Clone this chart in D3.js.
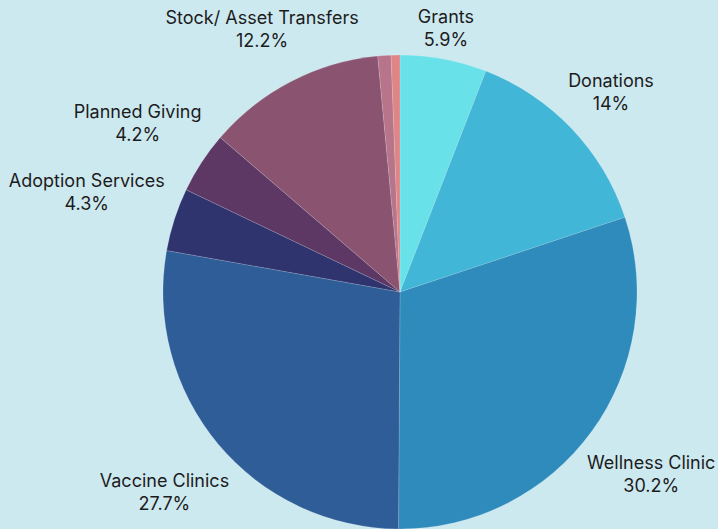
<!DOCTYPE html>
<html>
<head>
<meta charset="utf-8">
<script src="https://cdn.jsdelivr.net/npm/d3@7"></script>
<style>
  html, body { margin: 0; padding: 0; background: #CDE9F0; }
  svg { display: block; }
  text { font-family: "Inter", "Noto Sans", sans-serif; fill: #1c1c1c; }
</style>
</head>
<body>
<script>
const categories = ["Grants", "Donations", "Wellness Clinic", "Vaccine Clinics", "Adoption Services", "Planned Giving", "Stock/ Asset Transfers", "Other A", "Other B"];
const values = [5.9, 14, 30.2, 27.7, 4.3, 4.2, 12.2, 0.9, 0.6];
const valueLabels = ["5.9%", "14%", "30.2%", "27.7%", "4.3%", "4.2%", "12.2%", "", ""];
const colors = ["#68E1E8", "#41B6D6", "#2E8BBB", "#2E5D97", "#2F346E", "#5D3864", "#8A5370", "#B7748A", "#E08585"];
// label nudges (layout only)
const labelNudge = [[-7, 18], [3, -2], [19, 13], [-15, 16], [-40, -12], [-22, -12], [-6, -8], [0, 0], [0, 0]];

const W = 718, H = 529;
const cx = 400, cy = 292, r = 237;

const svg = d3.select("body").append("svg").attr("width", W).attr("height", H);
svg.append("rect").attr("width", W).attr("height", H).attr("fill", "#CDE9F0");

const data = categories.map((c, i) => ({ name: c, value: values[i], label: valueLabels[i], color: colors[i], nudge: labelNudge[i] }));

const pie = d3.pie().value(d => d.value).sort(null);
const arcs = pie(data);
const arc = d3.arc().innerRadius(0).outerRadius(r);
const labelArc = d3.arc().innerRadius(r + 50).outerRadius(r + 50);

const g = svg.append("g").attr("transform", `translate(${cx},${cy})`);
g.selectAll("path").data(arcs).join("path")
  .attr("d", arc)
  .attr("fill", d => d.data.color)
  .attr("stroke", "rgba(255,255,255,0.25)")
  .attr("stroke-width", 0.6);

const fs = 18;
const lbl = g.selectAll("text.lbl").data(arcs.filter(d => d.data.label)).join("text")
  .attr("class", "lbl")
  .attr("text-anchor", "middle")
  .attr("font-size", fs)
  .attr("transform", d => {
    const [x, y] = labelArc.centroid(d);
    return `translate(${x + d.data.nudge[0]},${y + d.data.nudge[1] - 5})`;
  });
lbl.append("tspan").attr("x", 0).attr("dy", 0).text(d => d.data.name);
lbl.append("tspan").attr("x", 0).attr("dy", 23).text(d => d.data.label);
</script>
</body>
</html>
